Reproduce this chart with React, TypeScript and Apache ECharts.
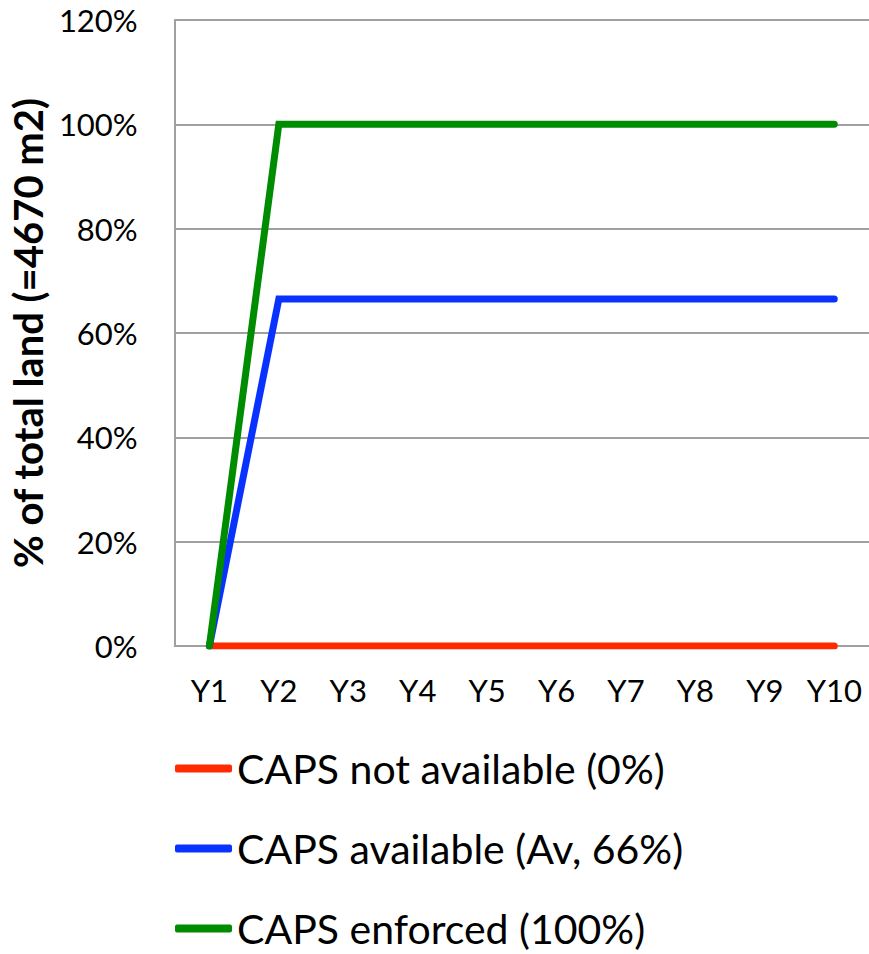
import React, { useEffect, useRef } from "react";
import * as echarts from "echarts";

const categories = ["Y1", "Y2", "Y3", "Y4", "Y5", "Y6", "Y7", "Y8", "Y9", "Y10"];
const notAvailable = [0, 0, 0, 0, 0, 0, 0, 0, 0, 0];
const available = [0, 0.665, 0.665, 0.665, 0.665, 0.665, 0.665, 0.665, 0.665, 0.665];
const enforced = [0, 1, 1, 1, 1, 1, 1, 1, 1, 1];
const seriesNames = ["CAPS not available (0%)", "CAPS available (Av, 66%)", "CAPS enforced (100%)"];
const seriesColors = ["#FF2A00", "#0A32FF", "#008C00"];
const yTitle = "% of total land (=4670 m2)";

export default function App() {
  const ref = useRef<HTMLDivElement>(null);
  useEffect(() => {
    if (!ref.current) return;
    const chart = echarts.init(ref.current, null, { renderer: "svg" });
    const font = "Lato";
    const data = [notAvailable, available, enforced];
    const legendTops = [748, 828, 908];
    chart.setOption({
      animation: false,
      backgroundColor: "#ffffff",
      grid: { left: 171, right: 0, top: 20, bottom: 308, containLabel: false },
      legend: seriesNames.map((n, i) => ({
        orient: "vertical",
        left: 175,
        top: legendTops[i],
        padding: 0,
        icon: "roundRect",
        itemWidth: 57,
        itemHeight: 8,
        data: [n],
        textStyle: { fontFamily: font, fontSize: 41, color: "#000", lineHeight: 40 },
      })),
      xAxis: {
        type: "category",
        data: categories,
        boundaryGap: true,
        axisLine: { show: true, lineStyle: { color: "#A0A0A0", width: 2 } },
        axisTick: { show: false },
        axisLabel: { interval: 0, fontFamily: font, fontSize: 31, color: "#000", margin: 28 },
        splitLine: { show: false },
      },
      yAxis: {
        type: "value",
        min: 0,
        max: 1.2,
        interval: 0.2,
        name: yTitle,
        nameLocation: "middle",
        nameRotate: 90,
        nameGap: 117,
        nameTextStyle: { fontFamily: font, fontSize: 40, fontWeight: "bold", color: "#000" },
        axisLine: { show: true, lineStyle: { color: "#A0A0A0", width: 2 } },
        axisTick: { show: false },
        axisLabel: {
          fontFamily: font,
          fontSize: 31,
          color: "#000",
          margin: 37,
          formatter: (v: number) => `${Math.round(v * 100)}%`,
        },
        splitLine: { show: true, lineStyle: { color: "#A0A0A0", width: 2 } },
      },
      series: data.map((d, i) => ({
        name: seriesNames[i],
        type: "line",
        data: d,
        symbol: "none",
        color: seriesColors[i],
        lineStyle: { color: seriesColors[i], width: 7, cap: "round", join: "miter" },
        z: 2 + i,
      })),
    });
    return () => chart.dispose();
  }, []);
  return (
    <div
      ref={ref}
      style={{ position: "fixed", left: 0, top: 0, width: 869, height: 954 }}
    />
  );
}
